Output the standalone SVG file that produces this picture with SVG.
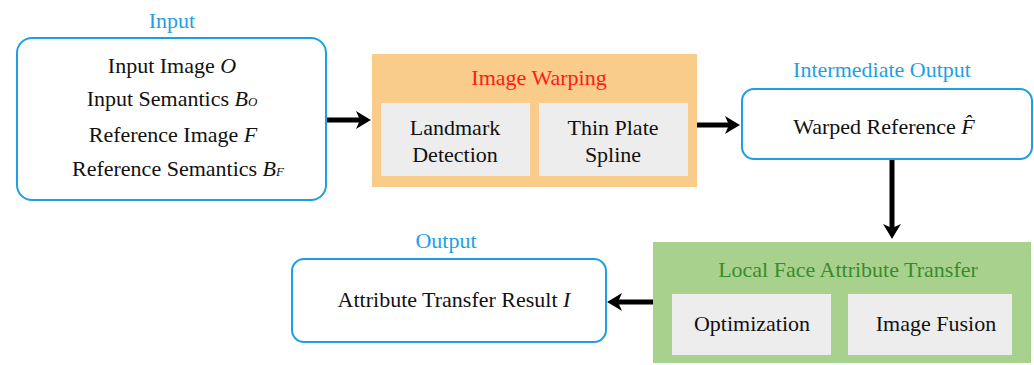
<svg xmlns="http://www.w3.org/2000/svg" width="1034" height="365" viewBox="0 0 1034 365" font-family="'Liberation Serif', 'DejaVu Serif', serif">
  <style>
    text { font-family: 'Liberation Serif', 'DejaVu Serif', serif; font-size: 22px; fill: #111; }
    .mid { text-anchor: middle; }
    .cap { fill: #1E9FE3; }
    .red { fill: #FF1A1A; }
    .grn { fill: #3A8B2E; }
    .it { font-style: italic; }
    .sub { font-style: italic; font-size: 13px; }
    .io { fill: #fff; stroke: #1E9FE3; stroke-width: 2; }
    .sub-box { fill: #EDEDED; }
    .conn { stroke: #000; stroke-width: 5; fill: none; marker-end: url(#head); }
  </style>
  <defs>
    <marker id="head" markerUnits="userSpaceOnUse" markerWidth="15" markerHeight="20" viewBox="0 0 15 20" refX="4" refY="10" orient="auto">
      <path d="M0,1 Q8,6 15,10 Q8,14 0,19 L4,10 Z" fill="#000"/>
    </marker>
  </defs>

  <rect width="1034" height="365" fill="#fff"/>

  <!-- input -->
  <g id="input">
    <text class="mid cap" x="172" y="28">Input</text>
    <rect class="io" x="17" y="38" width="309" height="162" rx="15"/>
    <text class="mid" x="172" y="73">Input Image <tspan class="it">O</tspan></text>
    <text class="mid" x="172" y="106">Input Semantics <tspan class="it">B</tspan><tspan class="sub">O</tspan></text>
    <text class="mid" x="173" y="142">Reference Image <tspan class="it">F</tspan></text>
    <text class="mid" x="178" y="176">Reference Semantics <tspan class="it">B</tspan><tspan class="sub">F</tspan></text>
  </g>

  <!-- image warping stage -->
  <g id="image-warping">
    <rect x="372" y="54" width="325" height="133" fill="#F9CC8A"/>
    <text class="mid red" x="539" y="85">Image Warping</text>
    <g id="landmark-detection">
      <rect class="sub-box" x="381" y="103" width="149" height="73"/>
      <text class="mid" x="455" y="135">Landmark</text>
      <text class="mid" x="455" y="162">Detection</text>
    </g>
    <g id="thin-plate-spline">
      <rect class="sub-box" x="539" y="103" width="149" height="73"/>
      <text class="mid" x="613" y="135">Thin Plate</text>
      <text class="mid" x="613" y="162">Spline</text>
    </g>
  </g>

  <!-- intermediate output -->
  <g id="intermediate-output">
    <text class="mid cap" x="882" y="77">Intermediate Output</text>
    <rect class="io" x="742" y="89" width="290" height="70" rx="12"/>
    <text class="mid" x="884" y="134">Warped Reference <tspan class="it">F&#x302;</tspan></text>
  </g>

  <!-- local face attribute transfer stage -->
  <g id="attribute-transfer">
    <rect x="653" y="242" width="378" height="121" fill="#A9D18E"/>
    <text class="mid grn" x="848" y="277">Local Face Attribute Transfer</text>
    <g id="optimization">
      <rect class="sub-box" x="672" y="294" width="159" height="61"/>
      <text class="mid" x="752" y="331">Optimization</text>
    </g>
    <g id="image-fusion">
      <rect class="sub-box" x="848" y="294" width="164" height="61"/>
      <text class="mid" x="936" y="331">Image Fusion</text>
    </g>
  </g>

  <!-- output -->
  <g id="output">
    <text class="mid cap" x="446" y="248">Output</text>
    <rect class="io" x="292" y="259" width="314" height="83" rx="12"/>
    <text class="mid" x="454" y="307">Attribute Transfer Result <tspan class="it">I</tspan></text>
  </g>

  <!-- connectors -->
  <g id="connectors">
    <line class="conn" x1="327" y1="120" x2="360" y2="120"/>
    <line class="conn" x1="697" y1="125" x2="729" y2="125"/>
    <line class="conn" x1="892" y1="160" x2="892" y2="228"/>
    <line class="conn" x1="653" y1="302" x2="618" y2="302"/>
  </g>
</svg>
